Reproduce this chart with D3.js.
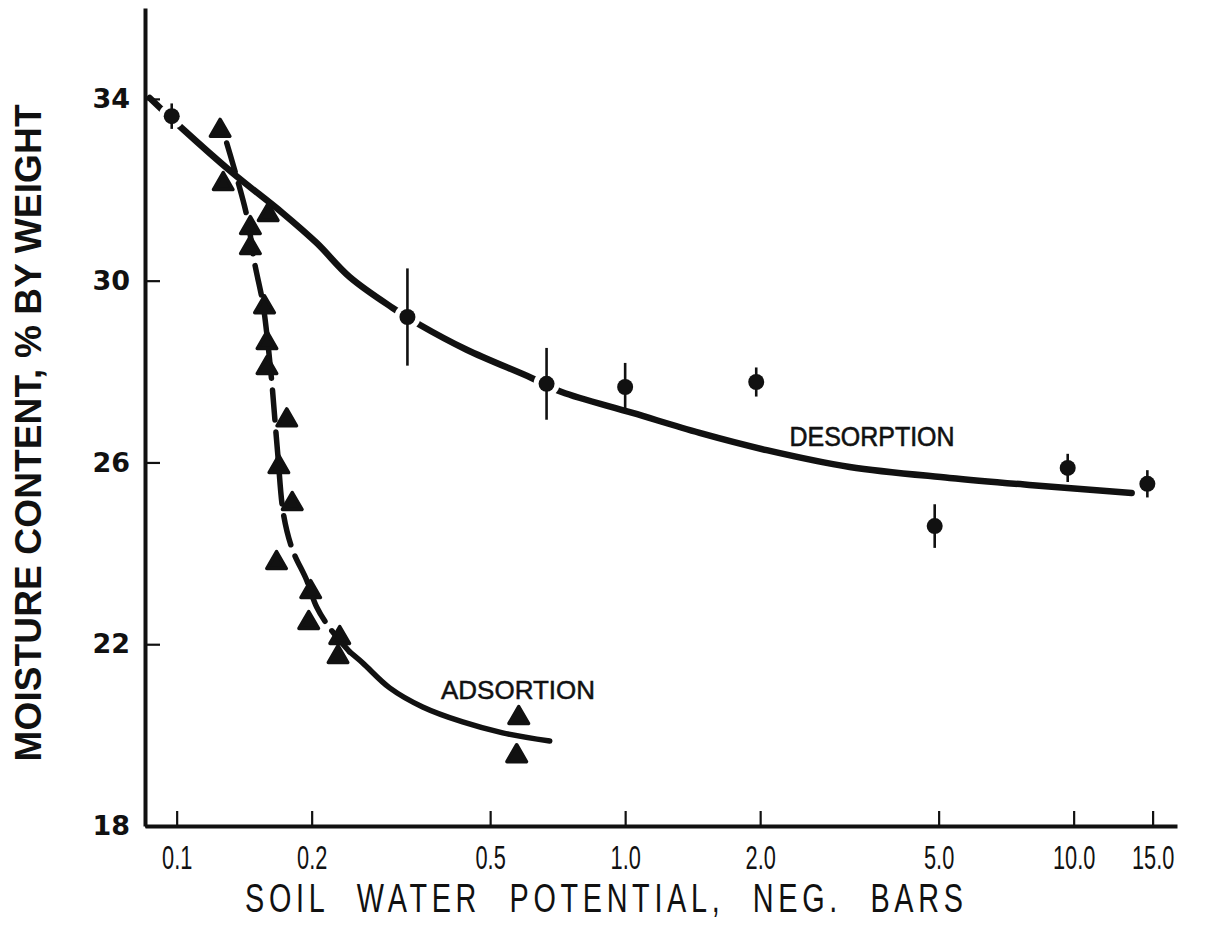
<!DOCTYPE html>
<html>
<head>
<meta charset="utf-8">
<script src="https://cdn.jsdelivr.net/npm/d3@7"></script>
<style>
  html, body { margin: 0; padding: 0; background: #fff; }
  svg { display: block; }
</style>
</head>
<body>
<svg id="chart" width="1213" height="935"></svg>
<script>
// Axis ticks
const xTicks = [0.1, 0.2, 0.5, 1, 2, 5, 10, 15];
const xTickLabels = ["0.1", "0.2", "0.5", "1.0", "2.0", "5.0", "10.0", "15.0"];
const yTicks = [18, 22, 26, 30, 34];

// Desorption measurements: potential (neg. bars), moisture (%), error half-width
const desX   = [0.0975, 0.327, 0.668, 1.0, 1.96, 4.9, 9.7, 14.6];
const desY   = [33.62, 29.20, 27.73, 27.66, 27.77, 24.60, 25.88, 25.53];
const desErr = [0.28, 1.07, 0.79, 0.53, 0.32, 0.48, 0.31, 0.30];

// Adsorption measurements
const adsX = [0.125, 0.127, 0.146, 0.160, 0.146, 0.157, 0.159, 0.159, 0.176,
              0.169, 0.181, 0.167, 0.199, 0.197, 0.231, 0.229, 0.579, 0.573];
const adsY = [33.30, 32.13, 31.16, 31.45, 30.72, 29.42, 28.63, 28.08, 26.93,
              25.90, 25.09, 23.79, 23.15, 22.47, 22.14, 21.72, 20.38, 19.54];

// Fitted desorption curve
const desCurveX = [0.0871, 0.1026, 0.1333, 0.1722, 0.2052, 0.2431, 0.3032, 0.3482,
                   0.4432, 0.6186, 0.722, 1.039, 1.466, 2.068, 3.167, 5.29, 8.10, 13.47];
const desCurveY = [34.02, 33.36, 32.37, 31.49, 30.83, 30.08, 29.40, 29.03,
                   28.48, 27.86, 27.55, 27.09, 26.65, 26.27, 25.90, 25.66, 25.50, 25.33];

// Fitted adsorption curve (dashed steep part, then solid tail)
const adsCurveX = [0.1293, 0.1432, 0.1492, 0.1555, 0.1587, 0.1628, 0.1679, 0.1732,
                   0.1814, 0.1949, 0.2052, 0.2193, 0.2431, 0.2598, 0.2985, 0.3536,
                   0.4342, 0.5332, 0.6789];
const adsCurveY = [33.03, 31.45, 30.39, 29.53, 28.87, 27.82, 26.23, 24.84,
                   24.07, 23.41, 22.82, 22.36, 21.83, 21.59, 21.04, 20.62,
                   20.29, 20.05, 19.87];
const adsSplitX = 0.2431;

const svg = d3.select("#chart");
const ink = "#111";
const sans = "'Liberation Sans', Arial, sans-serif";

const x = d3.scaleLog().domain([0.085, 17]).range([145, 1177]);
const y = d3.scaleLinear().domain([18, 36]).range([826, 8]);

const line = d3.line()
  .x(d => x(d[0]))
  .y(d => y(d[1]))
  .curve(d3.curveCatmullRom.alpha(0.5));

// Curves
const desCurve = desCurveX.map((v, i) => [v, desCurveY[i]]);
svg.append("path")
  .attr("d", line(desCurve))
  .attr("fill", "none")
  .attr("stroke", ink)
  .attr("stroke-width", 6.5)
  .attr("stroke-linecap", "round");

const adsCurve = adsCurveX.map((v, i) => [v, adsCurveY[i]]);
svg.append("path")
  .attr("d", line(adsCurve.filter(d => d[0] <= adsSplitX)))
  .attr("fill", "none")
  .attr("stroke", ink)
  .attr("stroke-width", 5.5)
  .attr("stroke-linecap", "round")
  .attr("stroke-dasharray", "30,12");
svg.append("path")
  .attr("d", line(adsCurve.filter(d => d[0] >= adsSplitX)))
  .attr("fill", "none")
  .attr("stroke", ink)
  .attr("stroke-width", 5.5)
  .attr("stroke-linecap", "round");

// Desorption points: white gap around each marker, error bar, dot
const des = desX.map((v, i) => ({ x: v, y: desY[i], e: desErr[i] }));
svg.append("g").selectAll("circle")
  .data(des).join("circle")
  .attr("cx", d => x(d.x)).attr("cy", d => y(d.y))
  .attr("r", 13).attr("fill", "#fff");
svg.append("g").selectAll("line")
  .data(des).join("line")
  .attr("x1", d => x(d.x)).attr("x2", d => x(d.x))
  .attr("y1", d => y(d.y + d.e)).attr("y2", d => y(d.y - d.e))
  .attr("stroke", ink).attr("stroke-width", 2.6);
svg.append("g").selectAll("circle")
  .data(des).join("circle")
  .attr("cx", d => x(d.x)).attr("cy", d => y(d.y))
  .attr("r", 8).attr("fill", ink);

// Adsorption points
const tri = d3.symbol().type(d3.symbolTriangle).size(165);
svg.append("g").selectAll("path")
  .data(adsX.map((v, i) => [v, adsY[i]])).join("path")
  .attr("transform", d => `translate(${x(d[0])},${y(d[1])})`)
  .attr("d", tri)
  .attr("fill", ink)
  .attr("stroke", ink)
  .attr("stroke-width", 3.5)
  .attr("stroke-linejoin", "round");

// Axes
const xAxis = d3.axisBottom(x)
  .tickValues(xTicks)
  .tickFormat((d, i) => xTickLabels[i])
  .tickSizeInner(-15).tickSizeOuter(0).tickPadding(19);
const gx = svg.append("g").attr("transform", "translate(0,826)").call(xAxis);
gx.select(".domain").attr("stroke", ink).attr("stroke-width", 4);
gx.selectAll(".tick line").attr("stroke", ink).attr("stroke-width", 2.2);
gx.selectAll(".tick text")
  .attr("fill", ink)
  .attr("font-family", sans)
  .attr("font-size", 34)
  .attr("transform", "scale(0.64,1)");

const yAxis = d3.axisLeft(y)
  .tickValues(yTicks)
  .tickSizeInner(-15).tickSizeOuter(0).tickPadding(15);
const gy = svg.append("g").attr("transform", "translate(145,0)").call(yAxis);
gy.select(".domain").attr("stroke", ink).attr("stroke-width", 4);
gy.selectAll(".tick line").attr("stroke", ink).attr("stroke-width", 2.2);
gy.selectAll(".tick text")
  .attr("fill", ink)
  .attr("font-family", "'DejaVu Sans', sans-serif")
  .attr("font-weight", "bold")
  .attr("font-size", 27);

// Axis titles
svg.append("text")
  .attr("transform", "translate(604,912) scale(0.72,1)")
  .attr("text-anchor", "middle")
  .attr("font-family", sans)
  .attr("font-size", 40)
  .attr("word-spacing", 22)
  .attr("fill", ink)
  .attr("textLength", 997)
  .attr("lengthAdjust", "spacing")
  .text("SOIL WATER POTENTIAL, NEG. BARS");

svg.append("text")
  .attr("transform", "translate(41,433) rotate(-90)")
  .attr("text-anchor", "middle")
  .attr("font-family", sans)
  .attr("font-weight", "bold")
  .attr("font-size", 37)
  .attr("fill", ink)
  .attr("textLength", 657)
  .attr("lengthAdjust", "spacing")
  .text("MOISTURE CONTENT, % BY WEIGHT");

// Curve labels
svg.append("text")
  .attr("x", 872).attr("y", 446)
  .attr("text-anchor", "middle")
  .attr("font-family", sans)
  .attr("font-size", 27)
  .attr("fill", ink)
  .attr("stroke", ink)
  .attr("stroke-width", 0.6)
  .attr("textLength", 165)
  .attr("lengthAdjust", "spacingAndGlyphs")
  .text("DESORPTION");

svg.append("text")
  .attr("x", 518).attr("y", 699)
  .attr("text-anchor", "middle")
  .attr("font-family", sans)
  .attr("font-size", 26)
  .attr("fill", ink)
  .attr("stroke", ink)
  .attr("stroke-width", 0.5)
  .attr("textLength", 154)
  .attr("lengthAdjust", "spacingAndGlyphs")
  .text("ADSORTION");
</script>
</body>
</html>
